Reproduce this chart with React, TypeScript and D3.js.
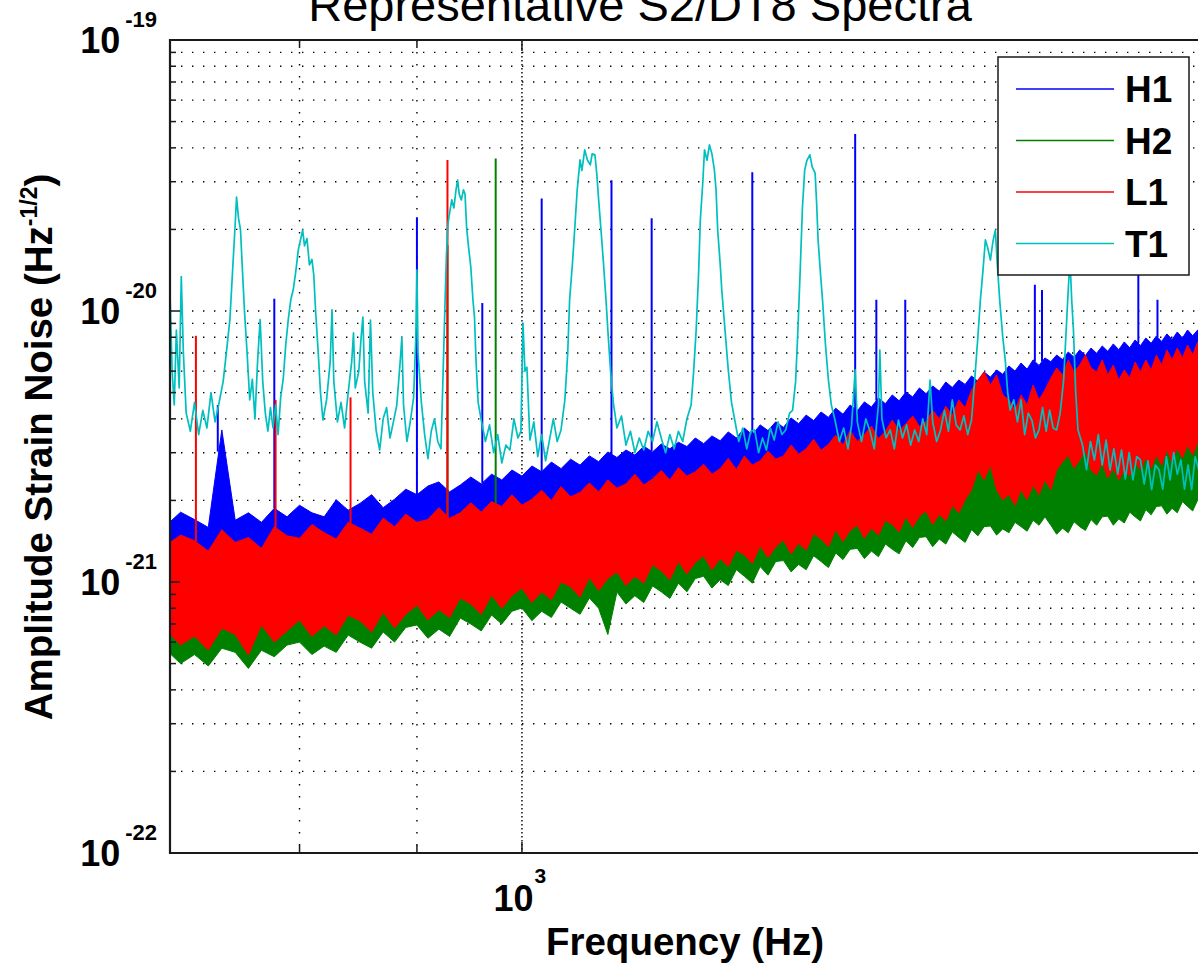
import React from "react";
import * as d3 from "d3";

// Amplitude values are stored in units of 1e-21 / sqrt(Hz).
const UNIT = 1e-21;

// Fine frequency grid (Hz) for the broadband noise envelopes.
const floorFreqs = [
  700, 710, 720, 730, 740, 750, 760, 770, 780, 790,
  800, 810, 820, 830, 840, 850, 860, 870, 880, 890,
  900, 910, 920, 930, 940, 950, 960, 970, 980, 990,
  1000, 1010, 1020, 1030, 1040, 1050, 1060, 1070, 1080, 1090,
  1100, 1110, 1120, 1130, 1140, 1150, 1160, 1170, 1180, 1190,
  1200, 1210, 1220, 1230, 1240, 1250, 1260, 1270, 1280, 1290,
  1300, 1310, 1320, 1330, 1340, 1350, 1360, 1370, 1380, 1390,
  1400, 1410, 1420, 1430, 1440, 1450, 1460, 1470, 1480, 1490,
  1500, 1510, 1520, 1530, 1540, 1550, 1560, 1570, 1580, 1590,
  1600, 1610, 1620, 1630, 1640, 1650, 1660, 1670, 1680, 1690,
  1700, 1710, 1720, 1730, 1740, 1750, 1760, 1770, 1780, 1790,
  1800, 1810, 1820, 1830, 1840, 1850, 1860, 1870, 1880, 1890,
  1900, 1910, 1920, 1930, 1940, 1950, 1960, 1970, 1980,
];

// Coarse frequency grid (Hz) for the envelope edges that lie inside other bands.
const coarseFreqs = [
  700, 750, 800, 850, 900, 950, 1000, 1050, 1100, 1150, 1200, 1250, 1300, 1350,
  1400, 1450, 1500, 1550, 1600, 1650, 1700, 1750, 1800, 1850, 1900, 1950, 2000,
];

// H1 noise floor: upper edge (fine grid), lower edge (coarse grid)
const h1Upper = [
  1.62, 1.81, 1.70, 1.59, 3.64, 1.69, 1.80, 1.66, 1.87, 1.74,
  1.92, 1.80, 1.74, 2.01, 1.84, 1.95, 2.10, 1.88, 2.02, 2.20,
  2.10, 2.26, 2.34, 2.15, 2.28, 2.44, 2.30, 2.50, 2.38, 2.59,
  2.46, 2.68, 2.55, 2.77, 2.62, 2.84, 2.70, 2.92, 2.78, 3.02,
  2.88, 3.07, 2.94, 3.17, 3.02, 3.23, 3.10, 3.28, 3.16, 3.40,
  3.24, 3.46, 3.32, 3.58, 3.40, 3.70, 3.49, 3.80, 3.62, 3.90,
  3.72, 4.03, 3.84, 4.13, 3.94, 4.24, 4.05, 4.38, 4.16, 4.50,
  4.28, 4.62, 4.42, 4.78, 4.55, 4.90, 4.66, 5.02, 4.82, 5.20,
  4.95, 5.29, 5.06, 5.47, 5.22, 5.56, 5.36, 5.76, 5.50, 5.96,
  5.70, 6.06, 5.84, 6.27, 6.00, 6.43, 6.10, 6.60, 6.30, 6.71,
  6.50, 6.88, 6.62, 7.06, 6.75, 7.18, 6.85, 7.30, 6.98, 7.43,
  7.10, 7.56, 7.20, 7.69, 7.32, 7.82, 7.45, 7.95, 7.60, 8.09,
  7.72, 8.23, 7.85, 8.37, 7.95, 8.51, 8.10, 8.51, 8.37,
];
const h1Lower = [
  0.755, 0.755, 0.80, 0.84, 0.91, 0.97, 1.06, 1.15, 1.21, 1.28, 1.38, 1.46, 1.59, 1.66,
  1.79, 1.87, 2.03, 2.14, 2.82, 2.38, 2.59, 3.20, 2.94, 3.07, 3.20, 3.49, 3.64,
];

// H2 noise floor: upper edge (coarse grid), lower edge (fine grid)
const h2Upper = [
  1.26, 1.31, 1.37, 1.43, 1.49, 1.62, 1.72, 1.84, 1.96, 2.06, 2.23, 2.38, 2.55, 2.77,
  2.94, 3.12, 3.34, 3.64, 3.96, 3.34, 3.64, 3.96, 3.34, 3.34, 3.64, 3.80, 3.96,
];
const h2Lower = [
  0.56, 0.50, 0.54, 0.49, 0.57, 0.55, 0.48, 0.56, 0.53, 0.585,
  0.60, 0.54, 0.58, 0.55, 0.637, 0.60, 0.57, 0.654, 0.60, 0.68,
  0.694, 0.62, 0.67, 0.63, 0.736, 0.70, 0.66, 0.755, 0.70, 0.78,
  0.802, 0.72, 0.78, 0.74, 0.844, 0.80, 0.76, 0.873, 0.80, 0.64,
  0.918, 0.83, 0.89, 0.84, 0.967, 0.92, 0.87, 0.99, 0.92, 1.03,
  1.05, 0.95, 1.02, 0.97, 1.11, 1.05, 0.99, 1.14, 1.06, 1.19,
  1.20, 1.09, 1.16, 1.11, 1.25, 1.19, 1.13, 1.28, 1.21, 1.32,
  1.33, 1.22, 1.30, 1.24, 1.38, 1.32, 1.27, 1.42, 1.34, 1.46,
  1.47, 1.35, 1.44, 1.38, 1.53, 1.46, 1.40, 1.56, 1.48, 1.60,
  1.61, 1.49, 1.57, 1.52, 1.66, 1.60, 1.54, 1.69, 1.62, 1.74,
  1.62, 1.50, 1.58, 1.52, 1.67, 1.60, 1.55, 1.70, 1.62, 1.74,
  1.75, 1.62, 1.71, 1.65, 1.81, 1.74, 1.68, 1.85, 1.77, 1.90,
  1.91, 1.78, 1.87, 1.80, 1.98, 1.90, 1.83, 2.01, 1.93,
];

// L1 noise floor: both edges on the fine grid
const l1Upper = [
  1.37, 1.49, 1.42, 1.30, 1.56, 1.40, 1.46, 1.33, 1.60, 1.48,
  1.45, 1.63, 1.52, 1.44, 1.66, 1.58, 1.50, 1.72, 1.60, 1.78,
  1.66, 1.70, 1.88, 1.72, 1.80, 1.96, 1.81, 1.98, 1.90, 2.10,
  1.92, 2.02, 2.18, 2.00, 2.25, 2.06, 2.14, 2.32, 2.15, 2.38,
  2.22, 2.30, 2.50, 2.28, 2.40, 2.58, 2.38, 2.64, 2.46, 2.55,
  2.72, 2.50, 2.62, 2.86, 2.60, 2.92, 2.70, 2.80, 3.04, 2.84,
  2.92, 3.20, 2.96, 3.10, 3.36, 3.06, 3.22, 3.48, 3.20, 3.62,
  3.30, 3.50, 3.76, 3.38, 3.60, 3.96, 3.62, 3.84, 4.10, 3.75,
  3.90, 4.30, 4.00, 4.45, 4.12, 4.70, 4.40, 5.11, 5.56, 5.96,
  5.33, 5.81, 4.90, 4.70, 4.31, 4.90, 4.50, 5.33, 4.70, 5.11,
  5.66, 6.16, 5.81, 6.60, 5.96, 6.32, 6.88, 6.16, 5.96, 6.60,
  5.81, 6.32, 5.56, 6.06, 5.66, 6.48, 5.96, 6.60, 6.06, 6.88,
  6.32, 7.18, 6.60, 7.30, 6.71, 7.49, 6.88, 7.69, 7.18,
];
const l1Lower = [
  0.665, 0.585, 0.632, 0.561, 0.676, 0.640, 0.538, 0.694, 0.600, 0.66,
  0.724, 0.630, 0.690, 0.637, 0.755, 0.720, 0.654, 0.775, 0.676, 0.76,
  0.822, 0.724, 0.790, 0.740, 0.873, 0.830, 0.760, 0.895, 0.800, 0.89,
  0.95, 0.84, 0.92, 0.860, 1.00, 0.96, 0.880, 1.04, 0.93, 1.03,
  1.09, 0.97, 1.05, 0.99, 1.16, 1.10, 1.02, 1.19, 1.07, 1.18,
  1.25, 1.11, 1.22, 1.14, 1.31, 1.26, 1.17, 1.36, 1.23, 1.35,
  1.43, 1.27, 1.39, 1.31, 1.51, 1.44, 1.35, 1.56, 1.41, 1.55,
  1.62, 1.45, 1.58, 1.49, 1.69, 1.63, 1.53, 1.74, 1.59, 1.75,
  1.83, 1.63, 1.78, 1.68, 1.92, 1.80, 2.01, 2.19, 2.59, 2.38,
  2.70, 2.19, 2.01, 2.10, 1.92, 2.19, 2.01, 2.28, 2.10, 2.38,
  2.19, 2.59, 2.77, 2.94, 2.63, 2.82, 3.07, 2.59, 2.48, 2.77,
  2.42, 2.63, 2.38, 2.59, 2.46, 2.77, 2.59, 2.87, 2.63, 2.94,
  2.70, 3.07, 2.77, 3.12, 2.87, 3.20, 2.94, 3.28, 3.07,
];

// Narrow spectral lines: [frequency (Hz), peak amplitude]
const h1Lines: [number, number][] = [
  [737, 4.5], [780, 11.1], [900, 22.2], [961, 10.7], [1020, 26.0], [1094, 30.4],
  [1139, 22.0], [1260, 32.5], [1397, 45.0], [1427, 11.0], [1469, 11.0],
  [1673, 12.5], [1685, 11.95], [1856, 16.8], [1892, 11.0],
];
const h2Lines: [number, number][] = [[928, 17.5], [974, 36.5]];
const l1Lines: [number, number][] = [[721, 8.1], [781, 4.7], [842, 4.8], [928, 36.1]];

// T1 spectrum: [frequency (Hz), amplitude]
const t1Spectrum: [number, number][] = [
  [702.5, 11.6], [704, 6.0], [705.5, 4.5], [707, 8.5], [709, 5.2], [710.5, 13.4], [712, 7.0],
  [714, 4.2], [717, 3.6], [720, 4.6], [723, 3.5], [726, 4.3], [729, 3.7], [732, 5.0], [735, 3.9],
  [738, 4.6], [741, 5.5], [744, 7.5],
  [746, 9.3], [748, 14], [750, 21], [751, 26.3], [752.5, 22], [754, 19.9], [755.5, 14], [757, 10],
  [759, 7.0], [761, 4.7],
  [763, 5.6], [765, 4.0], [767, 6.5], [769, 9.3], [771, 5.5], [773, 4.2], [775, 3.6], [777, 4.4],
  [779, 3.7], [781, 4.5], [783, 3.5], [785, 4.8], [787, 5.6], [789, 7.5],
  [791, 9.3], [793, 11], [795, 12], [797, 14], [799, 16.8], [801, 18.5], [802.5, 19.9], [804, 17.4],
  [806, 18.5], [808, 14.8], [810, 15.5], [811.5, 13.6], [813, 10], [815, 7.2], [817, 5.0],
  [819, 3.96], [822, 4.7], [825, 6.5], [826.5, 10.1], [828, 5.5], [831, 3.9], [834, 4.6], [837, 3.7],
  [840, 5.0], [843, 6.5], [844.5, 8.3], [846, 5.2], [849, 6.0], [851, 8.0], [852.5, 9.5], [854, 5.5],
  [857, 4.2], [859, 9.26], [861, 5.0], [864, 3.6], [867, 3.07], [870, 4.0], [873, 4.4], [876, 3.4],
  [879, 3.9], [882, 4.5], [885, 6.5], [886.5, 8.0], [888, 4.5], [891, 3.3], [894, 3.9], [897, 4.8],
  [899, 8.0], [900, 14.2], [901, 7.0], [904, 4.6], [907, 3.5], [910, 2.85], [913, 3.6], [916, 4.0],
  [919, 3.3], [922, 3.1], [924, 6.0],
  [925.5, 10], [927, 16], [928.5, 21], [930, 23], [932, 25.7], [934, 24], [936, 28], [937.5, 30.4],
  [939, 27], [941, 25.7], [943, 28], [944.5, 27], [946, 20.3], [948, 17], [950, 14.5], [952, 11],
  [953.5, 9.5], [955, 6.5], [957, 4.6],
  [960, 3.96], [964, 3.3], [968, 3.8], [972, 3.0], [976, 3.5], [980, 2.75], [984, 3.2], [988, 3.07],
  [992, 4.0], [996, 3.4], [999, 3.6], [1001, 9.0], [1003, 6.0], [1005, 6.2], [1008, 3.34], [1012, 3.9],
  [1016, 2.9], [1020, 3.5], [1024, 2.8], [1028, 3.34], [1032, 4.0], [1036, 3.3], [1040, 3.64], [1044, 4.7],
  [1047, 7.0], [1049, 11], [1052, 15], [1055, 21.7], [1057, 28], [1060, 36.1], [1062, 33], [1065, 39.3],
  [1068, 36], [1071, 34.6], [1073, 38], [1076, 37.7], [1078, 32], [1080, 25.7], [1083, 19], [1085, 15.4],
  [1088, 11], [1090, 8.5], [1093, 6.0],
  [1096, 4.6], [1100, 3.7], [1105, 4.1], [1110, 3.2], [1115, 3.6], [1120, 3.0], [1125, 3.4], [1130, 3.07],
  [1135, 3.6], [1140, 3.3], [1145, 3.9], [1150, 3.4], [1155, 3.0], [1160, 3.5], [1165, 3.1], [1170, 3.6],
  [1175, 3.3], [1180, 4.0], [1185, 4.5],
  [1188, 6.0], [1191, 8.5], [1194, 14], [1196, 21.7], [1199, 30], [1201, 39.3], [1204, 36], [1207, 41.0],
  [1210, 38], [1213, 33.1], [1215, 28], [1217, 19.9], [1220, 15], [1222, 11.95], [1226, 8.5], [1230, 6.06],
  [1234, 4.6],
  [1238, 3.96], [1243, 3.3], [1248, 3.7], [1253, 3.1], [1258, 3.6], [1263, 3.64], [1268, 3.0], [1273, 3.4],
  [1278, 3.07], [1283, 3.7], [1288, 3.34], [1293, 3.9], [1298, 3.5], [1303, 3.64], [1308, 4.2], [1312, 4.3],
  [1316, 5.5],
  [1319, 8.51], [1322, 14], [1325, 24], [1328, 33.1], [1331, 36], [1335, 37.7], [1338, 34], [1342, 32.3],
  [1344, 25], [1346, 18.3], [1349, 14], [1352, 10.98], [1356, 7.5], [1360, 5.56], [1364, 4.5],
  [1369, 3.96], [1375, 3.3], [1381, 3.7], [1387, 3.1], [1392, 3.8], [1397, 6.06], [1400, 3.9], [1406, 3.3],
  [1412, 4.0], [1418, 3.6], [1424, 3.1], [1430, 4.5], [1432, 7.18], [1435, 4.0], [1441, 3.4], [1447, 3.64],
  [1453, 3.1], [1459, 3.96], [1465, 3.4], [1471, 3.8], [1477, 3.2], [1483, 3.64], [1489, 3.3], [1495, 4.0],
  [1501, 3.5], [1506, 5.56], [1510, 3.9], [1516, 3.3], [1522, 3.64], [1528, 4.3], [1534, 3.6], [1540, 4.7],
  [1546, 3.8], [1552, 3.64], [1558, 4.1], [1564, 3.5], [1570, 3.96], [1575, 5.56],
  [1580, 8.0], [1584, 10.98], [1588, 14], [1592, 18.3], [1596, 17], [1600, 15.4], [1604, 18], [1608, 19.9],
  [1611, 15], [1615, 10.98], [1620, 8.0], [1624, 6.6], [1628, 5.0], [1632, 4.31],
  [1638, 4.7], [1644, 3.9], [1650, 4.7], [1656, 3.5], [1662, 4.2], [1668, 3.96], [1674, 3.4], [1680, 3.64],
  [1686, 4.4], [1692, 3.6], [1698, 4.31], [1704, 3.7], [1710, 3.64], [1716, 4.2], [1722, 5.56],
  [1727, 9.0], [1730, 12], [1733, 15.4], [1736, 11], [1739, 8.51], [1743, 5.0], [1747, 3.64],
  [1755, 3.2], [1762, 2.6], [1769, 3.3], [1776, 2.82], [1783, 3.5], [1790, 2.7], [1797, 3.34], [1804, 2.59],
  [1811, 3.1], [1818, 2.5], [1825, 3.07], [1832, 2.4], [1839, 3.0], [1846, 2.38], [1853, 2.9], [1860, 2.82],
  [1867, 2.3], [1874, 2.8], [1881, 2.19], [1888, 2.7], [1895, 2.59], [1902, 2.2], [1909, 2.9], [1916, 2.38],
  [1923, 3.0], [1930, 2.5], [1937, 2.82], [1944, 2.2], [1951, 2.7], [1958, 2.19], [1965, 2.9], [1972, 2.59],
  [1979, 2.3], [1986, 2.7],
];

const seriesNames = ["H1", "H2", "L1", "T1"];
const seriesColors = ["rgb(0,0,255)", "rgb(0,128,0)", "rgb(255,0,0)", "rgb(0,191,191)"];

// Grid and tick positions (Hz, and exponents of ten)
const xTickValues = [800, 900, 1000, 2000];
const yTickExponents = [-22, -21, -20, -19];
const xTickExponents = [3];

const FONT = "'Liberation Sans', Arial, Helvetica, sans-serif";

export default function App() {
  const W = 1198;
  const H = 964;
  const left = 170;
  const top = 40;
  const bottom = 853;
  const right = 1212.8;

  const x = d3.scaleLog().domain([702.5, 2000]).range([left, right]);
  const y = d3.scaleLog().domain([1e-22, 1e-19]).range([bottom, top]);
  const line = d3.line<[number, number]>();

  const pts = (fs: number[], vs: number[]): [number, number][] =>
    fs.map((f, i) => [x(f), y(vs[i] * UNIT)] as [number, number]);

  const bandPath = (uf: number[], uv: number[], lf: number[], lv: number[]) =>
    (line([...pts(uf, uv), ...pts(lf, lv).reverse()]) ?? "") + "Z";

  const spikeSegs = (lines: [number, number][], ef: number[], ev: number[]) => {
    const env = d3.scaleLog().domain(ef).range(ev).clamp(true);
    return lines.map(([f, v]) => ({ x: x(f), y1: y(v * UNIT), y2: y(env(f) * UNIT) }));
  };

  const bands = [
    { path: bandPath(floorFreqs, h1Upper, coarseFreqs, h1Lower), spikes: spikeSegs(h1Lines, floorFreqs, h1Upper) },
    { path: bandPath(coarseFreqs, h2Upper, floorFreqs, h2Lower), spikes: spikeSegs(h2Lines, coarseFreqs, h2Upper) },
    { path: bandPath(floorFreqs, l1Upper, floorFreqs, l1Lower), spikes: spikeSegs(l1Lines, floorFreqs, l1Upper) },
  ];
  const t1Path =
    line(t1Spectrum.map(([f, v]) => [x(f), y(v * UNIT)] as [number, number])) ?? "";

  const yTicks = y.ticks();
  const isMajor = (v: number) => Math.abs(Math.log10(v) - Math.round(Math.log10(v))) < 1e-6;

  const legendX = 998;
  const legendY = 57;
  const legendRowY = [89, 140.5, 192, 243.5];

  return (
    <svg
      width={W}
      height={H}
      style={{ position: "absolute", left: 0, top: 0, background: "#fff" }}
      fontFamily={FONT}
    >
      <defs>
        <clipPath id="plot-clip">
          <rect x={left} y={top} width={right - left} height={bottom - top} />
        </clipPath>
      </defs>
      <rect x={0} y={0} width={W} height={H} fill="#fff" />

      {/* grid */}
      <g stroke="#000" strokeWidth={1.4} clipPath="url(#plot-clip)">
        {yTicks
          .filter((v) => v > 1e-22 * 1.001 && v < 1e-19 * 0.999)
          .map((v, i) => (
            <line key={"gy" + i} x1={left} x2={right} y1={y(v)} y2={y(v)} strokeDasharray="1.4 9.6" />
          ))}
        {xTickValues.map((v, i) => (
          <line
            key={"gx" + i}
            x1={x(v)}
            x2={x(v)}
            y1={top}
            y2={bottom}
            strokeDasharray={isMajor(v) ? "1.4 2.6" : "1.4 10.6"}
          />
        ))}
      </g>

      {/* spectra */}
      <g clipPath="url(#plot-clip)">
        {bands.map((b, i) => (
          <g key={"b" + i}>
            <path d={b.path} fill={seriesColors[i]} stroke={seriesColors[i]} strokeWidth={1} strokeLinejoin="round" />
            {b.spikes.map((s, j) => (
              <line key={j} x1={s.x} x2={s.x} y1={s.y1} y2={s.y2} stroke={seriesColors[i]} strokeWidth={2} />
            ))}
          </g>
        ))}
        <path d={t1Path} fill="none" stroke={seriesColors[3]} strokeWidth={1.7} strokeLinejoin="round" />
      </g>

      {/* ticks */}
      <g stroke="#1a1a1a" strokeWidth={1.5}>
        {yTicks.map((v, i) => {
          const len = isMajor(v) ? 10 : 6;
          return <line key={"ty" + i} x1={left} x2={left + len} y1={y(v)} y2={y(v)} />;
        })}
        {xTickValues.map((v, i) => {
          const len = isMajor(v) ? 11 : 8;
          return (
            <g key={"tx" + i}>
              <line x1={x(v)} x2={x(v)} y1={bottom} y2={bottom - len} />
              <line x1={x(v)} x2={x(v)} y1={top} y2={top + len} />
            </g>
          );
        })}
      </g>

      {/* frame */}
      <path
        d={`M${right},${top}H${left}V${bottom}H${right}`}
        fill="none"
        stroke="#1a1a1a"
        strokeWidth={2.2}
      />

      {/* y tick labels */}
      {yTickExponents.map((e) => (
        <text key={"yl" + e} x={157} y={y(Math.pow(10, e)) + 12.5} textAnchor="end" fontWeight="bold" fontSize={36} fill="#000">
          10
          <tspan dx={5} dy={-26} fontSize={22}>
            {String(e)}
          </tspan>
        </text>
      ))}

      {/* x tick labels */}
      {xTickExponents.map((e) => (
        <text key={"xl" + e} x={x(Math.pow(10, e)) - 2} y={911} textAnchor="middle" fontWeight="bold" fontSize={36} fill="#000">
          10
          <tspan dx={1} dy={-28} fontSize={21}>
            {String(e)}
          </tspan>
        </text>
      ))}

      {/* legend */}
      <g>
        <rect x={legendX} y={legendY} width={191} height={218} fill="#fff" stroke="#1a1a1a" strokeWidth={1.5} />
        {seriesNames.map((name, i) => (
          <g key={name}>
            <line x1={1016} x2={1114} y1={legendRowY[i]} y2={legendRowY[i]} stroke={seriesColors[i]} strokeWidth={1.6} />
            <text x={1125} y={legendRowY[i] + 13} fontWeight="bold" fontSize={37} fill="#000">
              {name}
            </text>
          </g>
        ))}
      </g>

      {/* title and axis labels */}
      <text x={640} y={21} textAnchor="middle" fontSize={47} fill="#000">
        Representative S2/DT8 Spectra
      </text>
      <text x={685} y={955} textAnchor="middle" fontWeight="bold" fontSize={38.5} fill="#000">
        Frequency (Hz)
      </text>
      <text
        transform="translate(52,447) rotate(-90)"
        textAnchor="middle"
        fontWeight="bold"
        fontSize={38.5}
        fill="#000"
      >
        Amplitude Strain Noise (Hz
        <tspan dy={-15} fontSize={23}>
          -1/2
        </tspan>
        <tspan dy={15}>)</tspan>
      </text>
    </svg>
  );
}
